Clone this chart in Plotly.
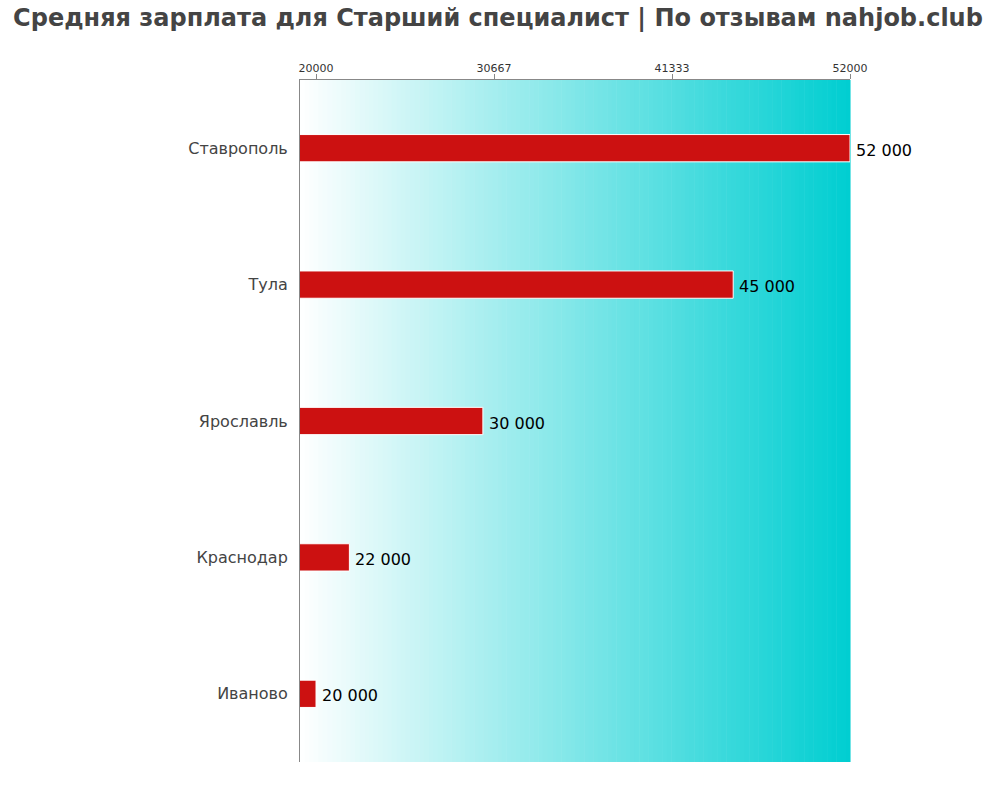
import plotly.graph_objects as go

cities = ["Ставрополь", "Тула", "Ярославль", "Краснодар", "Иваново"]
salaries = [52000, 45000, 30000, 22000, 20000]
tick_vals = [20000, 30667, 41333, 52000]
tick_text = ["20000", "30667", "41333", "52000"]
labels = [f"{v:,}".replace(",", " ") for v in salaries]

fig = go.Figure()
fig.add_trace(go.Bar(
    y=cities, x=salaries, orientation="h",
    marker=dict(color="#CC1111", line=dict(color="white", width=1)),
    width=0.2,
    hoverinfo="skip",
))

# value labels next to bar ends
for c, v, t in zip(cities, salaries, labels):
    fig.add_annotation(x=v, y=c, text=t, showarrow=False, xanchor="left",
                       xshift=4, yshift=-2,
                       font=dict(family="DejaVu Sans", size=16, color="black"))

# gradient background
n = 120
shapes = []
c0 = (255, 255, 255)
c1 = (0, 206, 209)
for i in range(n):
    t = (i + 0.5) / n
    col = tuple(round(c0[k] + (c1[k] - c0[k]) * t) for k in range(3))
    shapes.append(dict(type="rect", xref="paper", yref="paper",
                       x0=i / n, x1=(i + 1) / n + 0.001, y0=0, y1=1,
                       fillcolor=f"rgb{col}", line=dict(width=0), layer="below"))

fig.update_layout(
    width=1000, height=800,
    margin=dict(l=300, r=150, t=80, b=38),
    paper_bgcolor="white", plot_bgcolor="white",
    shapes=shapes,
    showlegend=False,
    title=dict(text="<b>Средняя зарплата для Старший специалист | По отзывам nahjob.club</b>",
               x=0.498, xanchor="center", y=0.978, yanchor="middle",
               font=dict(family="DejaVu Sans", size=24, color="#444444")),
    font=dict(family="DejaVu Sans"),
    xaxis=dict(side="top", range=[19040, 52000], tickvals=tick_vals, ticktext=tick_text,
               ticks="outside", ticklen=5, tickcolor="#888888",
               showline=True, linecolor="#888888", linewidth=1,
               showgrid=False, zeroline=False, ticklabelstandoff=-2,
               tickfont=dict(size=11, color="#333333")),
    yaxis=dict(categoryorder="array", categoryarray=cities[::-1],
               showline=True, linecolor="#888888", linewidth=1,
               showgrid=False, ticks="", ticklen=0, ticklabelstandoff=8,
               tickfont=dict(size=16, color="#444444")),
)
fig.write_html("out.html")
